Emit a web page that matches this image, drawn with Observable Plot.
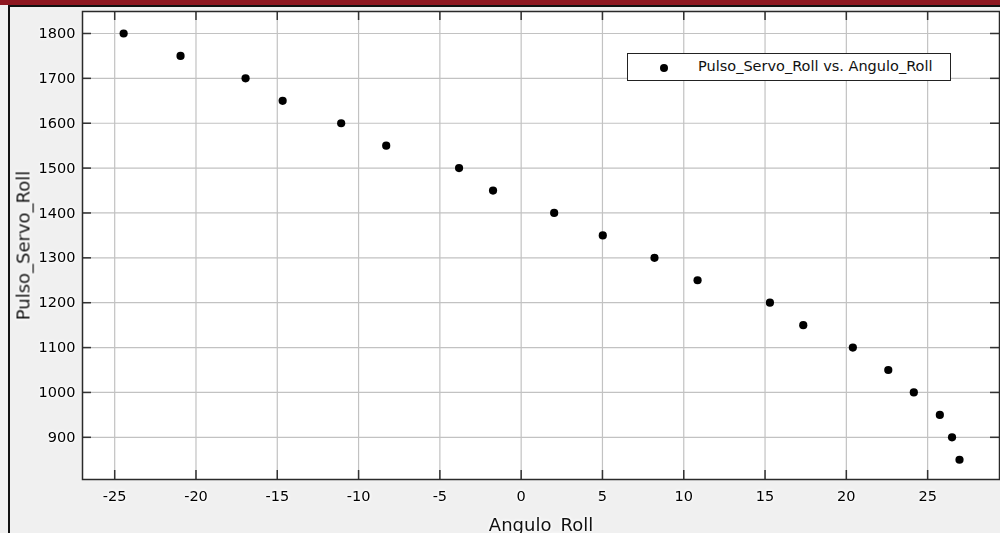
<!DOCTYPE html>
<html>
<head>
<meta charset="utf-8">
<script src="https://cdn.jsdelivr.net/npm/d3@7"></script>
<script src="https://cdn.jsdelivr.net/npm/@observablehq/plot@0.6"></script>
<style>
  html, body { margin: 0; padding: 0; background: #f0f0f0; }
  #wrap { position: relative; width: 1000px; height: 533px; overflow: hidden; font-family: "DejaVu Sans", Verdana, sans-serif; }
  #chart svg { display: block; }
  #chart svg text { filter: drop-shadow(0 0 1.5px #ffffff) drop-shadow(0 0 1.5px #ffffff); }
  .topbar { position: absolute; left: 0; top: 0; width: 1000px; height: 5px; background: #8e1720; z-index: 3; }
  .topline { position: absolute; left: 8px; top: 5px; width: 992px; height: 2px; background: #111; z-index: 3; }
  .leftline { position: absolute; left: 8px; top: 5px; width: 2px; height: 528px; background: #111; z-index: 3; }
  .legend { position: absolute; left: 627px; top: 53px; width: 322px; height: 26px; background: #fff; border: 1px solid #222; z-index: 2; font-size: 14.5px; color: #111; }
  .legend .dot { position: absolute; left: 32px; top: 10px; width: 8px; height: 8px; border-radius: 50%; background: #000; }
  .legend .txt { position: absolute; left: 70px; top: 4px; white-space: nowrap; }
</style>
</head>
<body>
<div id="wrap">
  <div class="topbar"></div>
  <div class="topline"></div>
  <div class="leftline"></div>
  <div id="chart"></div>
  <div class="legend"><span class="dot"></span><span class="txt" id="legtxt"></span></div>
</div>
<script>
// Data
const anguloRoll = [-24.45, -20.95, -16.95, -14.67, -11.07, -8.3, -3.82, -1.73, 2.03, 5.02, 8.2, 10.85, 15.3, 17.35, 20.4, 22.58, 24.15, 25.75, 26.5, 26.96];
const pulsoServoRoll = [1800, 1750, 1700, 1650, 1600, 1550, 1500, 1450, 1400, 1350, 1300, 1250, 1200, 1150, 1100, 1050, 1000, 950, 900, 850];
const xTicks = [-25, -20, -15, -10, -5, 0, 5, 10, 15, 20, 25];
const yTicks = [900, 1000, 1100, 1200, 1300, 1400, 1500, 1600, 1700, 1800];
const xLabel = "Angulo_Roll";
const yLabel = "Pulso_Servo_Roll";
const seriesName = "Pulso_Servo_Roll vs. Angulo_Roll";

const data = anguloRoll.map((a, i) => ({angulo: a, pulso: pulsoServoRoll[i]}));

const W = 1000, H = 533, mL = 82, mT = 11, mB = 54, mR = 1;
const frameW = W - mL - mR, frameH = H - mT - mB;
const tickLen = 9;
const fmt = d => String(d);

const chart = Plot.plot({
  width: W,
  height: H,
  marginLeft: mL,
  marginTop: mT,
  marginBottom: mB,
  marginRight: mR,
  style: {background: "transparent", fontFamily: "'DejaVu Sans', Verdana, sans-serif", fontSize: "14.5px", color: "#000"},
  x: {domain: [-26.98, 29.42]},
  y: {domain: [806, 1849]},
  marks: [
    Plot.frame({fill: "white", stroke: null}),
    Plot.gridX(xTicks, {stroke: "#c2c2c2", strokeOpacity: 1, strokeWidth: 1.2}),
    Plot.gridY(yTicks, {stroke: "#c2c2c2", strokeOpacity: 1, strokeWidth: 1.2}),
    // inward tick marks on all four sides
    Plot.tickX(xTicks, {x: d => d, insetTop: frameH - tickLen, stroke: "#333", strokeWidth: 1.5}),
    Plot.tickX(xTicks, {x: d => d, insetBottom: frameH - tickLen, stroke: "#333", strokeWidth: 1.5}),
    Plot.tickY(yTicks, {y: d => d, insetRight: frameW - tickLen, stroke: "#333", strokeWidth: 1.5}),
    Plot.tickY(yTicks, {y: d => d, insetLeft: frameW - tickLen, stroke: "#333", strokeWidth: 1.5}),
    Plot.frame({stroke: "#2a2a2a", strokeWidth: 1.5}),
    Plot.axisX(xTicks, {anchor: "bottom", tickSize: 0, tickPadding: 11, tickFormat: fmt, label: xLabel, labelAnchor: "center", labelArrow: "none", labelOffset: 51, fontSize: 14.5}),
    Plot.axisY(yTicks, {anchor: "left", tickSize: 0, tickPadding: 7, tickFormat: fmt, label: yLabel, labelAnchor: "center", labelArrow: "none", labelOffset: 66, fontSize: 14.5}),
    Plot.dot(data, {x: "angulo", y: "pulso", r: 4.1, fill: "#000", stroke: null})
  ]
});

// enlarge axis titles and make them fully opaque
chart.querySelectorAll("text").forEach(t => {
  if (t.textContent === xLabel || t.textContent === yLabel) {
    t.setAttribute("font-size", "18px");
    t.style.fontSize = "18px";
    t.setAttribute("fill", "#111");
    t.style.fill = "#111";
    t.style.fillOpacity = "1";
    let g = t.parentNode;
    while (g && g !== chart) {
      if (g.getAttribute) { g.removeAttribute("fill-opacity"); g.removeAttribute("opacity"); }
      g = g.parentNode;
    }
  }
});

document.getElementById("chart").appendChild(chart);
document.getElementById("legtxt").textContent = seriesName;
</script>
</body>
</html>
